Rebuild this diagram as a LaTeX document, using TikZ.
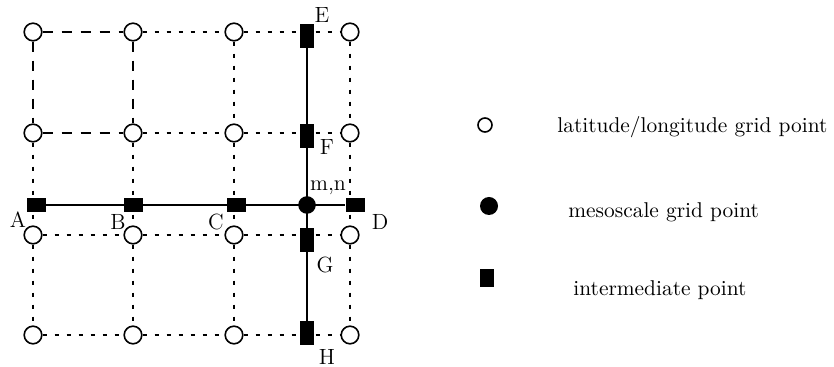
\documentclass[tikz,border=0pt]{standalone}
\begin{document}
\begin{tikzpicture}[x=0.5pt,y=-0.5pt,
    llpt/.style={circle,draw,line width=0.8pt,inner sep=0pt,minimum size=8.8pt},
    mesopt/.style={circle,fill,inner sep=0pt,minimum size=8.8pt},
    hsq/.style={rectangle,fill,inner sep=0pt,minimum width=9.5pt,minimum height=7pt},
    vsq/.style={rectangle,fill,inner sep=0pt,minimum width=7pt,minimum height=12pt},
    longdash/.style={line width=0.7pt,dash pattern=on 5pt off 4.5pt},
    shortdash/.style={line width=0.7pt,dash pattern=on 2pt off 4pt},
    gridline/.style={line width=0.9pt},
    ptlabel/.style={inner sep=0pt,font=\fontsize{11}{12}\selectfont},
    keytext/.style={inner sep=0pt,anchor=west,font=\fontsize{10.7}{13}\selectfont}]

    \useasboundingbox (0,0) rectangle (834,367);

    % Draw the latitude/longitude grid points
    \foreach \c [count=\i] in {33,133,234,350}
        \foreach \r [count=\j] in {32,133,235,335}
            \node[llpt] (g\i\j) at (\c,\r) {};

    % Draw the long dashed links (upper left)
    \draw[longdash] (g11) -- (g21);
    \draw[longdash] (g12) -- (g22);
    \draw[longdash] (g11) -- (g12);
    \draw[longdash] (g21) -- (g22);

    % Draw the short dashed links
    \foreach \a/\b in {21/31,31/41,22/32,32/42,13/23,23/33,33/43,14/24,24/34,34/44,
                       12/13,13/14,22/23,23/24,31/32,32/33,33/34,41/42,42/43,43/44}
        \draw[shortdash] (g\a) -- (g\b);

    % Draw the mesoscale grid point and the intermediate points
    \node[mesopt] (mn) at (307,205) {};
    \node[hsq] (A) at (36,205) {};
    \node[hsq] (B) at (133,205) {};
    \node[hsq] (C) at (236,205) {};
    \node[hsq] (D) at (355,205) {};
    \node[vsq] (E) at (307,36) {};
    \node[vsq] (F) at (307,136) {};
    \node[vsq] (G) at (307,240) {};
    \node[vsq] (H) at (307,333) {};

    % Draw the lines through m,n
    \draw[gridline] (A) -- (D);
    \draw[gridline] (E) -- (H);

    % Label the points
    \node[ptlabel] (lA) at (18,220) {A};
    \node[ptlabel] (lB) at (118,222) {B};
    \node[ptlabel] (lC) at (216,222) {C};
    \node[ptlabel] (lD) at (380,222) {D};
    \node[ptlabel] (lE) at (322,15) {E};
    \node[ptlabel] (lF) at (327,147) {F};
    \node[ptlabel] (lG) at (325,265) {G};
    \node[ptlabel] (lH) at (327,357) {H};
    \node[ptlabel] (lmn) at (328,188) {m,n};

    % Draw the key
    \node[llpt,minimum size=7pt] (k1) at (485,125) {};
    \node[mesopt,minimum size=9pt] (k2) at (489,206) {};
    \node[rectangle,fill,inner sep=0pt,minimum width=7pt,minimum height=9pt] (k3) at (487,278) {};
    \node[keytext] (t1) at (557,127) {latitude/longitude grid point};
    \node[keytext] (t2) at (568,212) {mesoscale grid point};
    \node[keytext] (t3) at (573,290) {intermediate point};
\end{tikzpicture}
\end{document}
